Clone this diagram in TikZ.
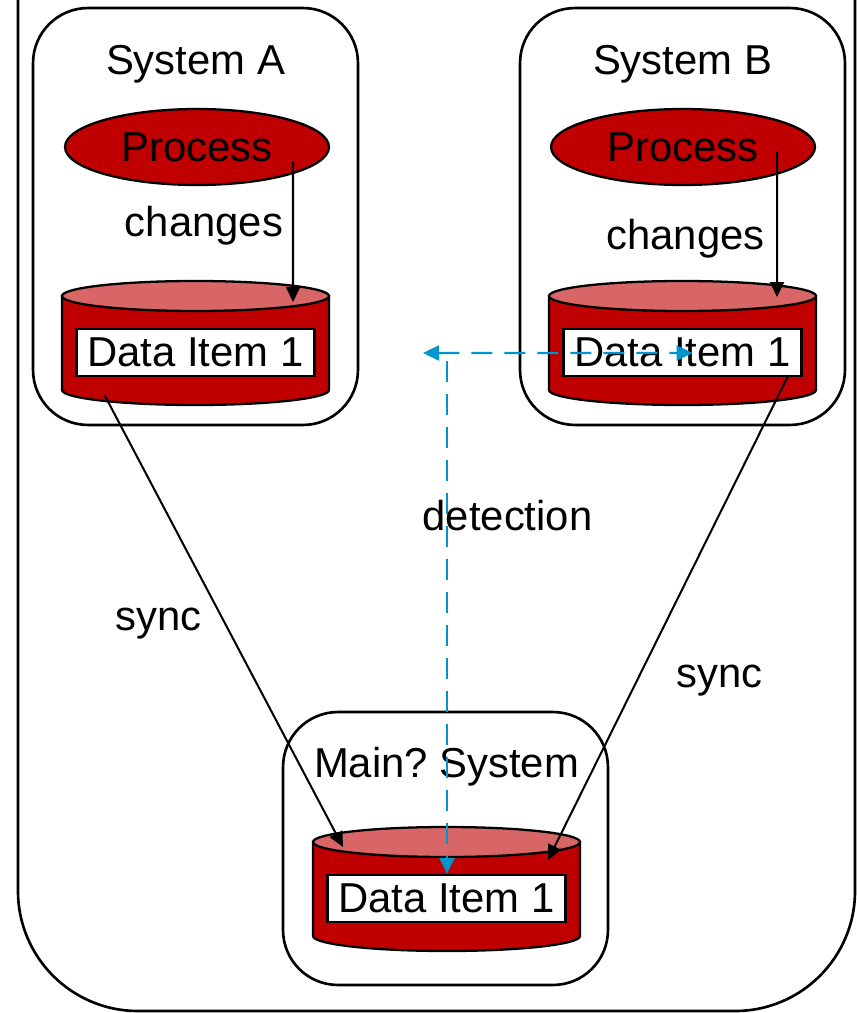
\documentclass[tikz,border=0pt]{standalone}
\usepackage{fontspec}
\setmainfont{Liberation Sans}
\usetikzlibrary{shapes.geometric,arrows.meta,calc}

\definecolor{dbred}{RGB}{192,0,0}
\definecolor{dbtop}{RGB}{217,102,102}
\definecolor{detblue}{RGB}{0,150,205}

\tikzset{
  txt/.style={font=\fontsize{23.8}{28}\selectfont\frenchspacing, inner sep=0pt},
  sysbox/.style={draw, line width=1.5pt, rounded corners=1.1cm, minimum width=6.5cm},
  procnode/.style={txt, ellipse, draw, line width=1.3pt, fill=dbred, minimum width=5.28cm, minimum height=1.52cm},
  itemnode/.style={txt, draw, line width=1.3pt, fill=white, minimum width=4.76cm, minimum height=0.94cm},
  arr/.style={-{Triangle[length=0.3cm,width=0.28cm]}, line width=1.15pt},
  detarr/.style={detblue, line width=1.3pt, dash pattern=on 0.42cm off 0.24cm},
}

% cilindro del dato: nome, x, y della faccia superiore
\newcommand{\datastore}[3]{%
  \filldraw[fill=dbred, line width=1.3pt] (#2-133.5,#3) -- (#2-133.5,#3+94)
    arc[start angle=180, end angle=0, x radius=133.5, y radius=15] -- (#2+133.5,#3) -- cycle;
  \filldraw[fill=dbtop, line width=1.3pt] (#2,#3) ellipse[x radius=133.5, y radius=15];
  \coordinate (#1top) at (#2,#3);
  \node[itemnode] (#1) at (#2,#3+56.5) {Data Item 1};
}

\begin{document}
\begin{tikzpicture}[x=0.02cm, y=-0.02cm]
    % Bordo esterno
    \clip (0,0) rectangle (857,1013);
    \draw[line width=1.5pt, rounded corners=2.4cm] (18,-200) rectangle (855,1011);

    % Sistemi
    \node[sysbox, minimum height=8.34cm] (sysA) at (195.5,216.5) {};
    \node[sysbox, minimum height=8.34cm] (sysB) at (682.5,216.5) {};
    \node[sysbox, minimum height=5.46cm] (sysM) at (445.5,848.5) {};
    \node[txt, anchor=base] (titleA) at (195.5,75) {System A};
    \node[txt, anchor=base] (titleB) at (682.5,75) {System B};
    \node[txt, anchor=base] (titleM) at (446.5,777) {Main? System};

    % Processi
    \node[procnode] (procA) at (197,147) {Process};
    \node[procnode] (procB) at (683,147) {Process};

    % Dati
    \datastore{itemA}{195.5}{296}
    \datastore{itemB}{682.5}{296}
    \datastore{itemM}{446.5}{842}

    % Modifiche
    \draw[arr] ($(procA)+(96,15)$) -- ($(itemAtop)+(97.5,6)$);
    \draw[arr] ($(procB)+(94,5)$) -- ($(itemBtop)+(94.5,1)$);
    \node[txt, anchor=base] (chA) at (204,237) {changes};
    \node[txt, anchor=base] (chB) at (685.5,250) {changes};

    % Sincronizzazione
    \draw[arr] ($(itemA)+(-91,42.5)$) -- ($(itemMtop)+(-103.5,5)$);
    \draw[arr] ($(itemB)+(105,24.5)$) -- ($(itemMtop)+(101.5,18)$);
    \node[txt, anchor=base] (syncA) at (158.5,630) {sync};
    \node[txt, anchor=base] (syncB) at (719.5,687) {sync};

    % Rilevamento
    \coordinate (detL) at (423,353);
    \coordinate (detS) at (447,361);
    \draw[detarr, {Triangle[length=0.32cm,width=0.3cm]}-{Triangle[length=0.32cm,width=0.3cm]}] (detL) -- ($(itemB)+(10,0.5)$);
    \draw[detarr, -{Triangle[length=0.32cm,width=0.3cm]}] (detS) -- (itemM.north -| detS);
    \node[txt, anchor=base] (detect) at (507.5,530) {detection};
\end{tikzpicture}
\end{document}
